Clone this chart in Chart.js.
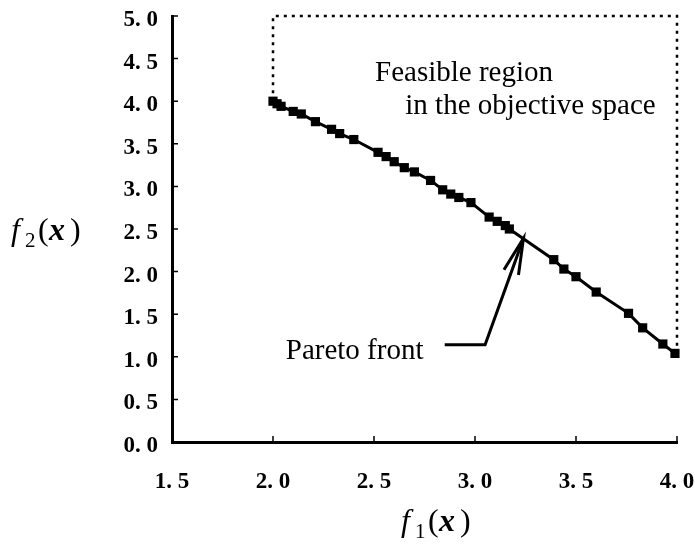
<!DOCTYPE html>
<html>
<head>
<meta charset="utf-8">
<script src="https://cdn.jsdelivr.net/npm/chart.js@4.4.0/dist/chart.umd.min.js"></script>
<style>
  html, body { margin: 0; padding: 0; background: #fff; }
  #wrap { width: 695px; height: 547px; }
</style>
</head>
<body>
<div id="wrap"><canvas id="paretoChart"></canvas></div>
<script>
// Pareto front points
const f1 = [2.00, 2.02, 2.04, 2.10, 2.14, 2.21, 2.29, 2.33, 2.40, 2.52, 2.56, 2.60, 2.65, 2.70, 2.78, 2.84, 2.88, 2.92, 2.98, 3.07, 3.11, 3.15, 3.17, 3.39, 3.44, 3.50, 3.60, 3.76, 3.83, 3.93, 3.99]
const f2 = [4.00, 3.97, 3.94, 3.88, 3.85, 3.76, 3.67, 3.62, 3.55, 3.40, 3.35, 3.29, 3.22, 3.17, 3.07, 2.96, 2.91, 2.87, 2.81, 2.64, 2.59, 2.54, 2.50, 2.14, 2.03, 1.94, 1.76, 1.51, 1.34, 1.15, 1.04]

// dotted boundary of the feasible region
const boxX = [2.0, 2.0, 4.0, 4.0]
const boxY = [4.0, 5.0, 5.0, 1.04]

const xTicks = [1.5, 2.0, 2.5, 3.0, 3.5, 4.0]
const yTicks = [0.0, 0.5, 1.0, 1.5, 2.0, 2.5, 3.0, 3.5, 4.0, 4.5, 5.0]

const fmt = v => v.toFixed(1).replace('.', '. ')

const serif = '"Liberation Serif", "Times New Roman", serif'

// f_n(x) label, drawn piece by piece
function drawMath(ctx, x, y, sub) {
    ctx.fillStyle = '#000'
    ctx.textBaseline = 'alphabetic'
    ctx.textAlign = 'left'
    ctx.font = 'italic 32px ' + serif
    ctx.fillText('f', x, y)
    ctx.font = '21px ' + serif
    ctx.fillText(sub, x + 14, y + 7)
    ctx.font = '32px ' + serif
    ctx.fillText('(', x + 27, y)
    ctx.font = 'italic bold 32px ' + serif
    ctx.fillText('x', x + 38, y)
    ctx.font = '32px ' + serif
    ctx.fillText(')', x + 59, y)
}

const decorations = {
    id: 'decorations',
    afterDraw(chart) {
        const ctx = chart.ctx
        const xs = chart.scales.x
        const ys = chart.scales.y
        const area = chart.chartArea
        ctx.save()

        // short inner tick marks
        ctx.strokeStyle = '#000'
        ctx.lineWidth = 1.5
        ctx.beginPath()
        xTicks.forEach(v => {
            const px = xs.getPixelForValue(v)
            ctx.moveTo(px, area.bottom)
            ctx.lineTo(px, area.bottom - 6)
        })
        yTicks.forEach(v => {
            const py = ys.getPixelForValue(v)
            ctx.moveTo(area.left, py)
            ctx.lineTo(area.left + 6, py)
        })
        ctx.stroke()

        // texts
        ctx.fillStyle = '#000'
        ctx.font = '29px ' + serif
        ctx.textBaseline = 'alphabetic'
        ctx.textAlign = 'left'
        ctx.fillText('Feasible region', xs.getPixelForValue(2.505), ys.getPixelForValue(4.24))
        ctx.fillText('in the objective space', xs.getPixelForValue(2.655), ys.getPixelForValue(3.85))
        ctx.textAlign = 'right'
        ctx.fillText('Pareto front', xs.getPixelForValue(2.745), ys.getPixelForValue(0.97))

        // arrow to the front
        const sx = xs.getPixelForValue(2.85), sy = ys.getPixelForValue(1.14)
        const ex = xs.getPixelForValue(3.05)
        const tx = xs.getPixelForValue(3.24), ty = ys.getPixelForValue(2.39)
        ctx.lineWidth = 3
        ctx.lineJoin = 'miter'
        ctx.beginPath()
        ctx.moveTo(sx, sy)
        ctx.lineTo(ex, sy)
        ctx.lineTo(tx, ty)
        ctx.stroke()
        const ang = Math.atan2(ty - sy, tx - ex)
        ctx.beginPath()
        ctx.moveTo(tx - 37 * Math.cos(ang - 0.21), ty - 37 * Math.sin(ang - 0.21))
        ctx.lineTo(tx, ty)
        ctx.lineTo(tx - 37 * Math.cos(ang + 0.21), ty - 37 * Math.sin(ang + 0.21))
        ctx.stroke()

        // axis titles
        drawMath(ctx, 11, 240, '2')
        drawMath(ctx, 401, 531, '1')
        ctx.restore()
    }
}

var ctx = document.getElementById('paretoChart').getContext('2d')
var myChart = new Chart(ctx, {
    type: 'scatter',
    data: {
        datasets: [{
            data: f1.map((v, i) => ({ x: v, y: f2[i] })),
            showLine: true,
            borderColor: '#000',
            backgroundColor: '#000',
            borderWidth: 3,
            pointStyle: 'rect',
            pointRadius: 6.5,
            pointBorderWidth: 0,
            clip: false
        }, {
            data: boxX.map((v, i) => ({ x: v, y: boxY[i] })),
            showLine: true,
            borderColor: '#000',
            borderWidth: 2.5,
            borderDash: [3, 5],
            pointRadius: 0,
            clip: false
        }]
    },
    options: {
        responsive: true,
        maintainAspectRatio: false,
        animation: false,
        layout: { padding: { top: 16, right: 18, left: 0, bottom: 0 } },
        plugins: {
            legend: { display: false },
            tooltip: { enabled: false }
        },
        scales: {
            x: {
                type: 'linear',
                min: 1.5,
                max: 4.0,
                afterFit: s => { s.height = 105; s.paddingLeft = 0; s.paddingRight = 0 },
                afterBuildTicks: s => { s.ticks = xTicks.map(v => ({ value: v })) },
                border: { color: '#000', width: 3 },
                grid: { display: false, drawTicks: false },
                ticks: {
                    color: '#000',
                    padding: 26,
                    maxRotation: 0,
                    font: { family: serif, size: 23, weight: 'bold' },
                    callback: fmt
                }
            },
            y: {
                type: 'linear',
                min: 0,
                max: 5,
                afterFit: s => { s.width = 172; s.paddingTop = 0; s.paddingBottom = 0 },
                afterBuildTicks: s => { s.ticks = yTicks.map(v => ({ value: v })) },
                border: { color: '#000', width: 3 },
                grid: { display: false, drawTicks: false },
                ticks: {
                    color: '#000',
                    padding: 14,
                    labelOffset: 4,
                    font: { family: serif, size: 23, weight: 'bold' },
                    callback: fmt
                }
            }
        }
    },
    plugins: [decorations]
})
</script>
</body>
</html>
